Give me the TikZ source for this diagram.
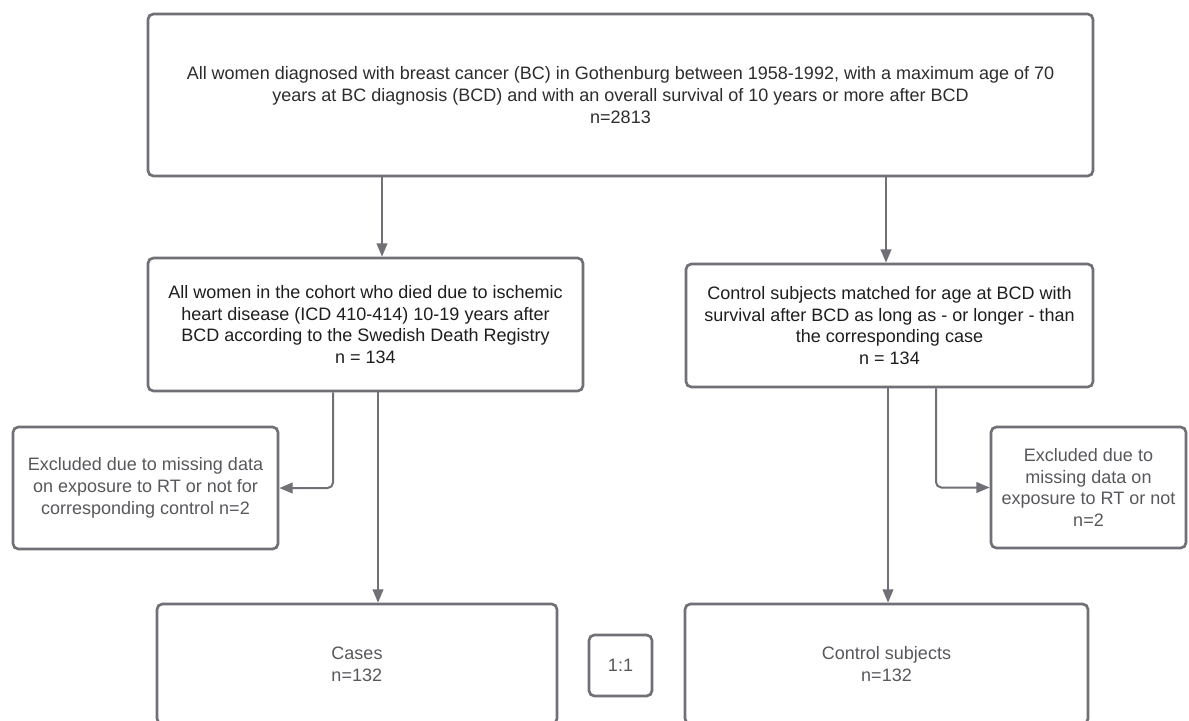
\documentclass[tikz,border=0pt]{standalone}
\usepackage{fontspec}
\setmainfont{Liberation Sans}
\usetikzlibrary{arrows.meta}
\definecolor{edge}{RGB}{112,112,118}
\definecolor{txtdark}{RGB}{45,45,48}
\definecolor{txtblack}{RGB}{30,30,32}
\definecolor{txtgray}{RGB}{88,88,92}
\begin{document}
\begin{tikzpicture}[x=0.75pt,y=-0.75pt,
  box/.style={draw=edge,line width=2pt,rounded corners=4pt,fill=white,inner sep=0pt,align=center,
    font=\fontsize{13.5}{16.3}\selectfont},
  conn/.style={draw=edge,line width=1.5pt,-{Triangle[length=10pt,width=8pt]}}]
\useasboundingbox (0,0) rectangle (1189,721);
\fill[white] (0,0) rectangle (1189,721);
\node[box, minimum width=708.75pt, minimum height=121.5pt, text=txtdark] (top) at (620.5,95)
  {All women diagnosed with breast cancer (BC) in Gothenburg between 1958-1992, with a maximum age of 70\\
   years at BC diagnosis (BCD) and with an overall survival of 10 years or more after BCD\\
   n=2813};
\node[box, minimum width=326.25pt, minimum height=99.75pt, text=txtblack] (lm) at (365.5,324.5)
  {All women in the cohort who died due to ischemic\\
   heart disease (ICD 410-414) 10-19 years after\\
   BCD according to the Swedish Death Registry\\
   n = 134};
\node[box, minimum width=305.25pt, minimum height=92.25pt, text=txtblack] (rm) at (889.5,325.5)
  {Control subjects matched for age at BCD with\\
   survival after BCD as long as - or longer - than\\
   the corresponding case\\
   n = 134};
\node[box, minimum width=198.75pt, minimum height=91.5pt, text=txtgray] (exl) at (145.5,488)
  {Excluded due to missing data\\
   on exposure to RT or not for\\
   corresponding control n=2};
\node[box, minimum width=146.25pt, minimum height=90.75pt, text=txtgray] (exr) at (1088.5,487.5)
  {Excluded due to\\
   missing data on\\
   exposure to RT or not\\
   n=2};
\node[box, minimum width=300pt, minimum height=90pt, text=txtgray, align=left] (cases) at (357,664)
  {Cases\\n=132};
\node[box, minimum width=302.25pt, minimum height=90pt, text=txtgray] (ctrl) at (886.5,664)
  {Control subjects\\n=132};
\node[box, minimum width=47.25pt, minimum height=45.75pt, text=txtgray] (ratio) at (620.5,665.5) {1:1};
\coordinate (a1) at (382,0);
\coordinate (a2) at (886,0);
\coordinate (a3) at (378,0);
\coordinate (a4) at (888,0);
\coordinate (e1) at (333,0);
\coordinate (e2) at (936,0);
\draw[conn] (a1 |- top.south) -- (a1 |- lm.north);
\draw[conn] (a2 |- top.south) -- (a2 |- rm.north);
\draw[conn] (a3 |- lm.south) -- (a3 |- cases.north);
\draw[conn] (a4 |- rm.south) -- (a4 |- ctrl.north);
\draw[conn, rounded corners=4pt] (e1 |- lm.south) -- (e1 |- exl.east) -- (exl.east);
\draw[conn, rounded corners=4pt] (e2 |- rm.south) -- (e2 |- exr.west) -- (exr.west);
\end{tikzpicture}
\end{document}
